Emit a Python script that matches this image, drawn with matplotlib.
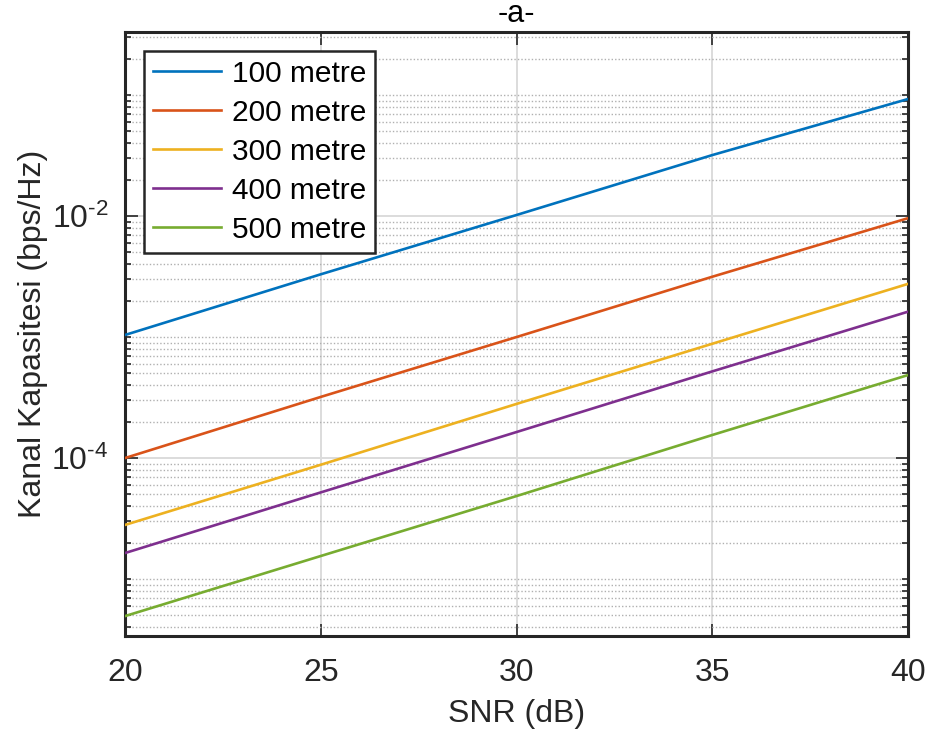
import numpy as np
import matplotlib
matplotlib.use("Agg")
import matplotlib.pyplot as plt
from matplotlib.ticker import LogLocator, NullFormatter, FixedLocator

plt.rcParams["font.family"] = ["Liberation Sans", "DejaVu Sans"]
plt.rcParams["mathtext.fontset"] = "custom"
plt.rcParams["mathtext.rm"] = "Liberation Sans"
plt.rcParams["mathtext.it"] = "Liberation Sans"

# SNR points (dB) and channel capacity (bps/Hz)
snr_db = [20, 25, 30, 35, 40]
cap_100 = [1.04e-3, 3.3e-3, 1.02e-2, 3.19e-2, 9.27e-2]
cap_200 = [1.0e-4, 3.2e-4, 1.0e-3, 3.15e-3, 9.6e-3]
cap_300 = [2.8e-5, 8.8e-5, 2.8e-4, 8.8e-4, 2.75e-3]
cap_400 = [1.64e-5, 5.2e-5, 1.64e-4, 5.2e-4, 1.62e-3]
cap_500 = [4.94e-6, 1.55e-5, 4.85e-5, 1.55e-4, 4.85e-4]
labels = ["100 metre", "200 metre", "300 metre", "400 metre", "500 metre"]
colors = ["#0072BD", "#D95319", "#EDB120", "#7E2F8E", "#77AC30"]

fig = plt.figure(figsize=(9.29, 7.37), dpi=100)
ax = fig.add_axes([0.1346, 0.137, 0.8428, 0.8196])

for ys, lab, c in zip([cap_100, cap_200, cap_300, cap_400, cap_500], labels, colors):
    ax.plot(snr_db, ys, color=c, lw=1.9, label=lab, zorder=3)

ax.set_yscale("log")
ax.set_xlim(20, 40)
ax.set_ylim(3.38e-6, 0.332)

ax.xaxis.set_major_locator(FixedLocator([20, 25, 30, 35, 40]))
ax.yaxis.set_major_locator(FixedLocator([1e-4, 1e-2]))
ax.set_yticklabels([r"$\mathregular{10^{\text{-}4}}$", r"$\mathregular{10^{\text{-}2}}$"])
ax.yaxis.set_minor_locator(LogLocator(base=10, subs=np.arange(1, 10), numticks=30))
ax.yaxis.set_minor_formatter(NullFormatter())

ax.grid(True, which="major", color="#dcdcdc", lw=1.4, ls="-", zorder=0)
ax.grid(True, which="minor", axis="y", color="#b0b0b0", lw=1.0, ls=(0, (1, 1.5)), zorder=0)
ax.set_axisbelow(True)

ax.tick_params(which="both", direction="in", top=True, right=True,
               colors="#262626", labelsize=23, width=1.2)
ax.tick_params(which="major", length=9)
ax.tick_params(axis="x", which="major", pad=16)
ax.tick_params(axis="y", which="major", pad=12)
ax.tick_params(which="minor", length=4.5)
for s in ax.spines.values():
    s.set_color("#262626")
    s.set_linewidth(2.2)

ax.set_xlabel("SNR (dB)", fontsize=23, color="#262626", labelpad=8)
ax.set_ylabel("Kanal Kapasitesi (bps/Hz)", fontsize=23, color="#262626", labelpad=2)
ax.set_title("-a-", fontsize=22, color="#000000", pad=7)

leg = ax.legend(loc="upper left", bbox_to_anchor=(0.024, 0.969), borderaxespad=0,
                fontsize=21.5, frameon=True, fancybox=False, handlelength=2.3,
                handletextpad=0.35, labelspacing=0.37, borderpad=0.3)
leg.get_frame().set_edgecolor("#262626")
leg.get_frame().set_linewidth(1.8)
leg.get_frame().set_alpha(1)

fig.savefig("out.png", dpi=100)
